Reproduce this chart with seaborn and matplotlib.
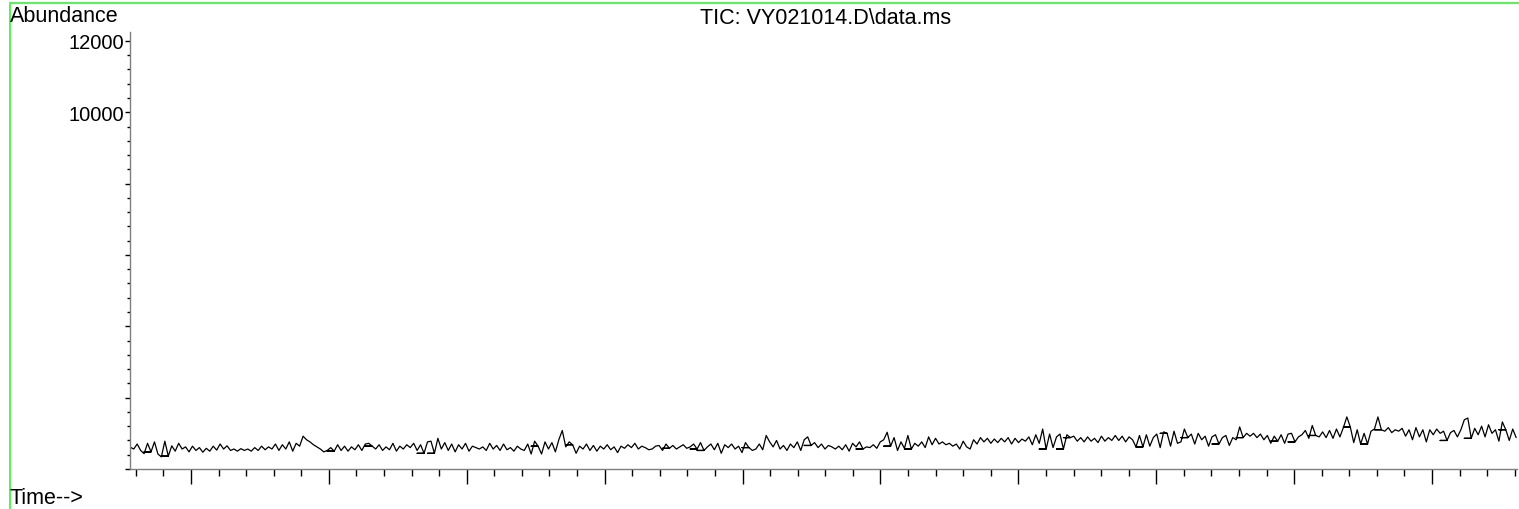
import numpy as np
import pandas as pd
import matplotlib
matplotlib.use("Agg")
import matplotlib.pyplot as plt
from matplotlib.ticker import MultipleLocator, FuncFormatter
from matplotlib.lines import Line2D
import seaborn as sns

# ---- data (abundance, segment by segment) ----
seg1 = [610, 560, 700, 520, 430, 720, 480, 760, 420, 340,
        780, 360, 650, 500, 720, 560, 620, 480, 640, 520,
        600, 470, 580, 500, 640, 530, 700, 560, 650, 520,
        560, 500, 570, 520, 560, 500, 600, 520, 640, 540,
        620, 560, 700, 520, 680, 560, 760, 500, 720, 640,
        920, 820, 760, 680, 620, 560, 480, 520, 600, 500,
        680, 520, 640, 500, 620, 540, 680, 520, 700, 720,
        640, 560, 680, 520, 620, 540, 720, 500, 640, 560,
        680]
seg2 = [600, 720, 520, 680, 440, 760, 780, 440, 860, 560,
        740, 520, 700, 480, 680, 560, 720, 500, 640, 600,
        560, 620, 520, 720, 560, 660, 520, 700, 540, 600,
        500, 640, 560, 520, 700, 420, 780, 640, 420, 760,
        560, 740, 480, 820, 1080, 620, 760, 680, 440, 640,
        560, 700, 520, 660, 500, 640, 560, 680, 540, 620,
        460, 640, 580, 680, 600, 720, 560, 640, 600, 540,
        560, 640, 660, 520, 700, 580, 660, 560, 620, 680,
        580]
seg3 = [620, 700, 560, 740, 520, 620, 700, 540, 720, 440,
        680, 600, 700, 560, 640, 460, 740, 600, 520, 560,
        700, 540, 940, 760, 620, 800, 560, 660, 520, 700,
        600, 760, 520, 820, 900, 660, 740, 600, 700, 560,
        660, 620, 560, 640, 540, 680, 500, 720, 620, 760,
        560, 620, 600, 680, 580, 760, 820, 1030, 640, 880,
        520, 760, 580, 940, 560, 720, 640, 760, 600, 900,
        680, 860, 700, 760, 680, 720, 640, 700, 560, 780,
        620]
seg4 = [560, 820, 700, 880, 760, 860, 720, 840, 740, 860,
        760, 880, 700, 860, 740, 840, 780, 900, 680, 960,
        720, 1120, 560, 980, 600, 900, 980, 560, 960, 880,
        920, 780, 880, 760, 900, 780, 860, 740, 920, 780,
        880, 800, 940, 800, 920, 760, 900, 820, 620, 940,
        620, 960, 640, 880, 980, 600, 1040, 1000, 640, 1060,
        720, 760, 1120, 880, 980, 700, 1000, 820, 920, 640,
        900, 960, 700, 880, 940, 660, 880, 820, 1180, 880,
        1000]
seg5 = [920, 1000, 880, 980, 820, 940, 720, 920, 780, 960,
        720, 980, 1000, 760, 900, 960, 1080, 860, 1220, 940,
        900, 1040, 880, 1080, 860, 1120, 900, 1160, 1460, 1180,
        740, 1100, 700, 1000, 700, 1060, 1120, 1460, 1100, 1060,
        1160, 1020, 1100, 1060, 1140, 920, 1100, 820, 1160, 900,
        1100, 760, 1100, 960, 1120, 1000, 1060, 800, 1020, 1080,
        900, 1100, 1380, 1430, 860, 1140, 960, 1200, 900, 1240,
        1000, 1100, 780, 1320, 1100, 800, 1120, 880]

# scans where the instrument's trace loops back along a flat base
closed_peaks = [5, 10, 58, 69, 84, 87, 117, 127, 155, 163, 165, 178, 196,
                211, 219, 225, 264, 269, 271, 292, 299, 305, 314, 321,
                331, 336, 342, 352, 357, 361, 380, 387, 397]

abundance = np.array(seg1 + seg2 + seg3 + seg4 + seg5, dtype=float)
t_first, t_last = 2.80, 53.05          # retention time span (min)
x_limits = (2.79, 53.08)
y_limits = (0, 12250)
y_labelled = [10000, 12000]
title_text = "TIC: VY021014.D\\data.ms"
ylabel_text = "Abundance"
xlabel_text = "Time-->"

time = np.linspace(t_first, t_last, len(abundance))

# build the drawn path (with the flat-base retraces)
path_t, path_y = [], []
closed_set = set(closed_peaks)
for i in range(len(abundance)):
    path_t.append(time[i])
    path_y.append(abundance[i])
    p = i - 1
    if p in closed_set and 1 <= p < len(abundance) - 1:
        path_t += [time[p - 1], time[i]]
        path_y += [abundance[i], abundance[i]]
df = pd.DataFrame({"time": path_t, "abundance": path_y})

# ---- style ----
sns.set_style("white")
plt.rcParams["font.family"] = ["Liberation Sans", "DejaVu Sans"]

W, H = 1519, 510
fig = plt.figure(figsize=(W / 100, H / 100), dpi=100)
ax = fig.add_axes([130 / W, (H - 470) / H, 1387 / W, (470 - 33) / H])

sns.lineplot(data=df, x="time", y="abundance", ax=ax, color="black",
             linewidth=0.9, estimator=None, sort=False)

ax.set_xlim(*x_limits)
ax.set_ylim(*y_limits)
ax.set_xlabel("")
ax.set_ylabel("")

for s in ["top", "right"]:
    ax.spines[s].set_visible(False)
for s in ["left", "bottom"]:
    ax.spines[s].set_color("#7f7f7f")
    ax.spines[s].set_linewidth(1.0)

# y ticks
ax.yaxis.set_major_locator(MultipleLocator(2000))
ax.yaxis.set_minor_locator(MultipleLocator(400))
ax.yaxis.set_major_formatter(FuncFormatter(
    lambda v, p: f"{int(round(v))}" if int(round(v)) in y_labelled else ""))
ax.tick_params(axis="y", which="both", left=True, direction="out",
               color="black", width=1)
ax.tick_params(axis="y", which="major", length=3.5, labelsize=14.5,
               labelcolor="black", pad=0.5)
ax.tick_params(axis="y", which="minor", length=2)

# x ticks (no labels)
ax.xaxis.set_major_locator(MultipleLocator(5))
ax.xaxis.set_minor_locator(MultipleLocator(1))
ax.tick_params(axis="x", which="both", bottom=True, labelbottom=False,
               direction="out", color="black", width=1)
ax.tick_params(axis="x", which="major", length=11)
ax.tick_params(axis="x", which="minor", length=5)

# texts
fig.text(826 / W, 1 - 18 / H, title_text, ha="center", va="center",
         fontsize=15.5, color="black")
fig.text(10 / W, 1 - 17 / H, ylabel_text, ha="left", va="center",
         fontsize=15.5, color="black")
fig.text(10 / W, 1 - 499 / H, xlabel_text, ha="left", va="center",
         fontsize=15.5, color="black")

# green frame lines
green = "#5DF05D"
fig.add_artist(Line2D([10 / W, 1.0], [1 - 3.5 / H, 1 - 3.5 / H],
                      transform=fig.transFigure, color=green, linewidth=1.5))
fig.add_artist(Line2D([10 / W, 10 / W], [0, 1 - 3.5 / H],
                      transform=fig.transFigure, color=green, linewidth=1.5))

fig.savefig("out.png", dpi=100)
